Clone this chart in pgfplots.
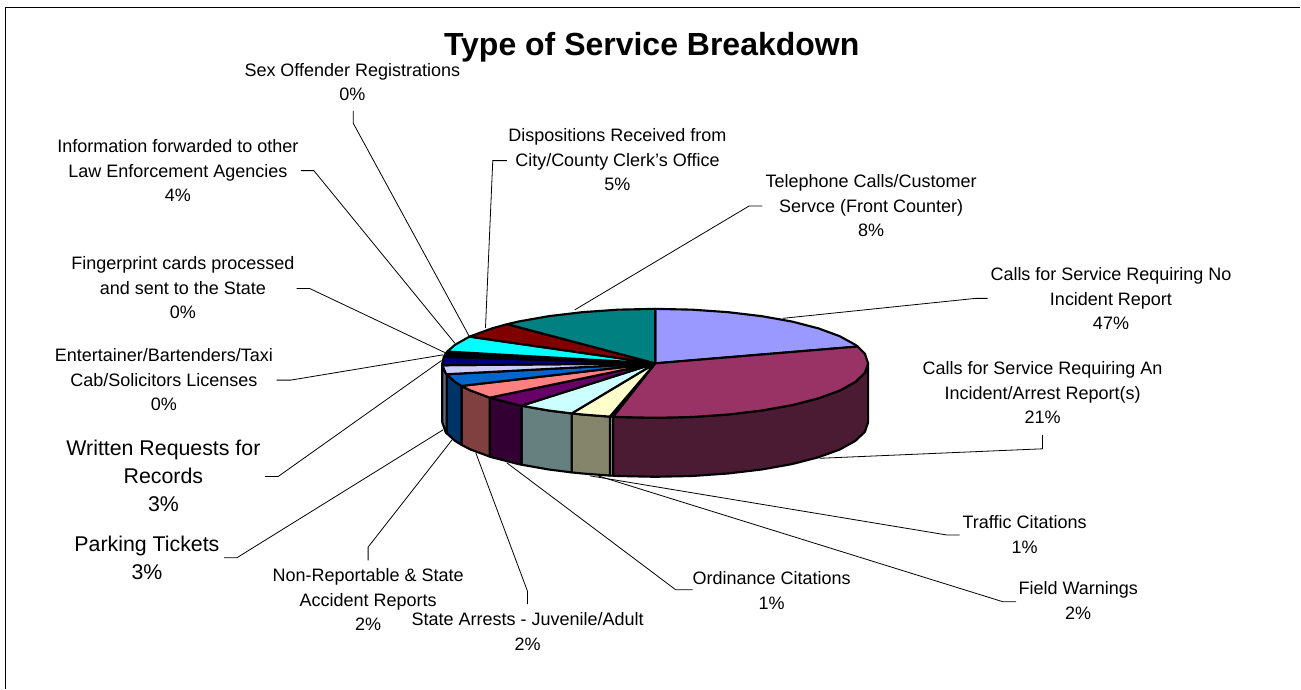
\documentclass[border=0pt]{standalone}
\usepackage{fontspec}
\setmainfont{Liberation Sans}
\usepackage{pgfplots}
\pgfplotsset{compat=1.18}

\definecolor{c1}{HTML}{9999FF}
\definecolor{c2}{HTML}{993366}
\definecolor{c3}{HTML}{FFFFCC}
\definecolor{c4}{HTML}{CCFFFF}
\definecolor{c5}{HTML}{660066}
\definecolor{c6}{HTML}{FF8080}
\definecolor{c7}{HTML}{0066CC}
\definecolor{c8}{HTML}{CCCCFF}
\definecolor{c9}{HTML}{000080}
\definecolor{c10}{HTML}{00FFFF}
\definecolor{c11}{HTML}{800000}
\definecolor{c12}{HTML}{008080}
\definecolor{w2}{HTML}{4B1B33}
\definecolor{w3}{HTML}{85856B}
\definecolor{w4}{HTML}{668080}
\definecolor{w5}{HTML}{330033}
\definecolor{w6}{HTML}{804040}
\definecolor{w7}{HTML}{003366}
\definecolor{w8}{HTML}{666680}

\begin{document}
\begin{tikzpicture}[
    lab/.style={font=\fontsize{13.5pt}{18.4pt}\selectfont, align=center, inner sep=0pt},
    big/.style={font=\fontsize{16pt}{21pt}\selectfont, align=center, inner sep=0pt}]
\begin{axis}[
    scale only axis, width=975.75pt, height=516.75pt,
    xmin=0, xmax=1301, ymin=0, ymax=689, y dir=reverse,
    hide axis, clip=false,
    slice/.style={draw=black, line width=1.6pt, line join=round},
    leader/.style={draw=black, line width=0.6pt}]

% page
\addplot[draw=none, fill=white] coordinates {(0,0)(1301,0)(1301,689)(0,689)} --cycle;
\addplot[black, line width=0.9pt] coordinates {(5.5,689)(5.5,7.5)(1301,7.5)};

% leader lines
\addplot[leader] coordinates {(353.5,111)(353.5,123.5)(469.5,336.5)};
\addplot[leader] coordinates {(507.2,160.7)(493,160.7)(485.7,328)};
\addplot[leader] coordinates {(762.7,206)(749.6,206)(575,310)};
\addplot[leader] coordinates {(988,298.5)(976,298.5)(783,318.5)};
\addplot[leader] coordinates {(1043,435)(1043,449)(820,458.5)};
\addplot[leader] coordinates {(960,535.3)(947.7,535.3)(590,476)};
\addplot[leader] coordinates {(1016.7,602)(1003.3,602)(598,476)};
\addplot[leader] coordinates {(693,590)(676,590)(507,463)};
\addplot[leader] coordinates {(527.8,604.3)(527.8,591.7)(476,453)};
\addplot[leader] coordinates {(368.3,560.7)(368.3,547.3)(452.3,440)};
\addplot[leader] coordinates {(224.3,558)(237,558)(443.3,430)};
\addplot[leader] coordinates {(265,476.7)(278.3,476.7)(441.7,360.7)};
\addplot[leader] coordinates {(276.7,380.3)(290.7,380.3)(443.3,355)};
\addplot[leader] coordinates {(296.7,288.7)(310,288.7)(445,352.7)};
\addplot[leader] coordinates {(301,170.7)(314,170.7)(455,343.3)};

% side wall of the pie
\addplot[slice, fill=w2] coordinates {(868.5,363.5)(865.3,373)(855.7,382.1)(840,390.8)(818.7,398.5)(792.4,405.3)(762,410.7)(728.3,414.7)(692.5,417.2)(655.5,418)(618.5,417.2)(613.4,416.9)
    (613.4,475.9)(618.5,476.2)(655.5,477)(692.5,476.2)(728.3,473.7)(762,469.7)(792.4,464.3)(818.7,457.5)(840,449.8)(855.7,441.1)(865.3,432)(868.5,422.5)} --cycle;
\addplot[slice, fill=w3] coordinates {(613.4,416.9)(610.1,416.8)(610.1,475.8)(613.4,475.9)} --cycle;
\addplot[slice, fill=w3] coordinates {(610.1,416.8)(582.7,414.7)(571.9,413.6)(571.9,472.6)(582.7,473.7)(610.1,475.8)} --cycle;
\addplot[slice, fill=w4] coordinates {(571.9,413.6)(549,410.7)(521.7,405.9)(521.7,464.9)(549,469.7)(571.9,472.6)} --cycle;
\addplot[slice, fill=w5] coordinates {(521.7,405.9)(518.6,405.3)(492.3,398.5)(490,397.8)(490,456.8)(492.3,457.5)(518.6,464.3)(521.7,464.9)} --cycle;
\addplot[slice, fill=w6] coordinates {(490,397.8)(471,390.8)(461.7,386.1)(461.7,445.1)(471,449.8)(490,456.8)} --cycle;
\addplot[slice, fill=w7] coordinates {(461.7,386.1)(455.3,382.1)(446.8,374.4)(446.8,433.4)(455.3,441.1)(461.7,445.1)} --cycle;
\addplot[slice, fill=w8] coordinates {(446.8,374.4)(445.7,373)(442.6,365.4)(442.5,363.5)(442.5,422.5)(445.7,432)(446.8,433.4)} --cycle;

% top of the pie
\addplot[slice, fill=c1] coordinates {(655.5,363.5)(655.5,309)(692.5,309.8)(728.3,312.3)(762,316.3)(792.4,321.7)(818.7,328.5)(840,336.3)(855.7,344.9)(858.1,346.7)} --cycle;
\addplot[slice, fill=c2] coordinates {(655.5,363.5)(858.1,346.7)(865.3,354)(868.5,363.5)(865.3,373)(855.7,382.1)(840,390.8)(818.7,398.5)(792.4,405.3)(762,410.7)(728.3,414.7)(692.5,417.2)(655.5,418)(618.5,417.2)(613.4,416.9)} --cycle;
\addplot[slice, fill=c3] coordinates {(655.5,363.5)(613.4,416.9)(610.1,416.8)} --cycle;
\addplot[slice, fill=c3] coordinates {(655.5,363.5)(610.1,416.8)(582.7,414.7)(571.9,413.6)} --cycle;
\addplot[slice, fill=c4] coordinates {(655.5,363.5)(571.9,413.6)(549,410.7)(521.7,405.9)} --cycle;
\addplot[slice, fill=c5] coordinates {(655.5,363.5)(521.7,405.9)(518.6,405.3)(492.3,398.5)(490,397.8)} --cycle;
\addplot[slice, fill=c6] coordinates {(655.5,363.5)(490,397.8)(471,390.8)(461.7,386.1)} --cycle;
\addplot[slice, fill=c7] coordinates {(655.5,363.5)(461.7,386.1)(455.3,382.1)(446.8,374.4)} --cycle;
\addplot[slice, fill=c8] coordinates {(655.5,363.5)(446.8,374.4)(445.7,373)(442.6,365.4)} --cycle;
\addplot[slice, fill=c9] coordinates {(655.5,363.5)(442.6,365.4)(442.5,363.5)(444.1,356.9)} --cycle;
\addplot[slice, fill=black] coordinates {(655.5,363.5)(444.1,356.9)(445.7,354)(447.5,351.7)} --cycle;
\addplot[slice, fill=c10] coordinates {(655.5,363.5)(447.5,351.7)(455.3,344.9)(469.7,336.8)} --cycle;
\addplot[slice, fill=c11] coordinates {(655.5,363.5)(469.7,336.8)(471,336.3)(492.3,328.5)(507.5,324.3)} --cycle;
\addplot[slice, fill=c12] coordinates {(655.5,363.5)(507.5,324.3)(518.6,321.7)(549,316.3)(582.7,312.3)(618.5,309.8)(655.5,309)} --cycle;

% texts
\node[font=\fontsize{24pt}{28pt}\selectfont\bfseries, inner sep=0pt] at (axis cs:652,47) {Type of Service Breakdown};
\node[lab] at (axis cs:352.5,82) {Sex Offender Registrations\\0\%};
\node[lab] at (axis cs:617.7,160) {Dispositions Received from\\City/County Clerk's Office\\5\%};
\node[lab] at (axis cs:871.5,206) {Telephone Calls/Customer\\Servce (Front Counter)\\8\%};
\node[lab] at (axis cs:1111.5,299) {Calls for Service Requiring No\\Incident Report\\47\%};
\node[lab] at (axis cs:1043,393) {Calls for Service Requiring An\\Incident/Arrest Report(s)\\21\%};
\node[lab] at (axis cs:1025,535) {Traffic Citations\\1\%};
\node[lab] at (axis cs:1078.7,601) {Field Warnings\\2\%};
\node[lab] at (axis cs:772,591) {Ordinance Citations\\1\%};
\node[lab] at (axis cs:527.8,632) {State Arrests - Juvenile/Adult\\2\%};
\node[lab] at (axis cs:368.3,600) {Non-Reportable \& State\\Accident Reports\\2\%};
\node[big] at (axis cs:147,558) {Parking Tickets\\3\%};
\node[big] at (axis cs:163.5,476) {Written Requests for\\Records\\3\%};
\node[lab] at (axis cs:164,380) {Entertainer/Bartenders/Taxi\\Cab/Solicitors Licenses\\0\%};
\node[lab] at (axis cs:183,288) {Fingerprint cards processed\\and sent to the State\\0\%};
\node[lab] at (axis cs:178,171) {Information forwarded to other\\Law Enforcement Agencies\\4\%};
\end{axis}
\end{tikzpicture}
\end{document}
